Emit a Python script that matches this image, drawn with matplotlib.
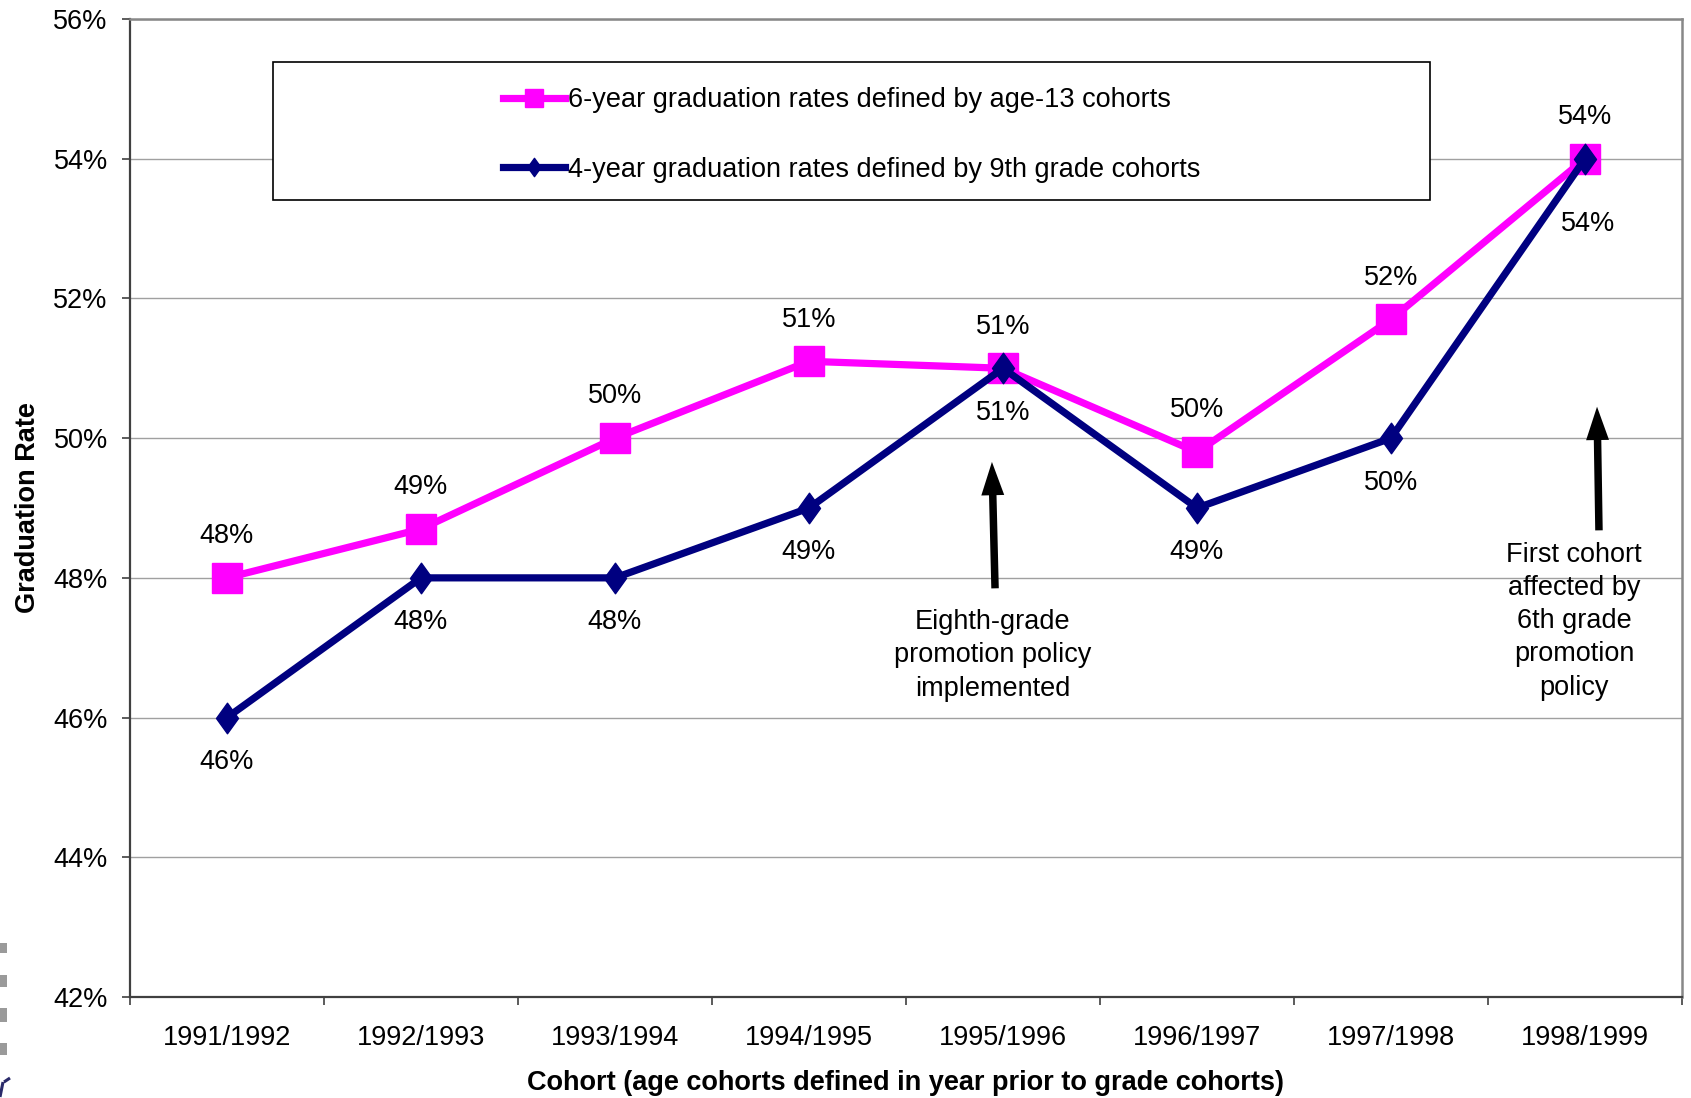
import matplotlib
matplotlib.use("Agg")
import matplotlib.pyplot as plt
from matplotlib.path import Path
from matplotlib.patches import Rectangle, PathPatch

plt.rcParams['font.family'] = ['Liberation Sans', 'DejaVu Sans']

cohorts = ["1991/1992", "1992/1993", "1993/1994", "1994/1995",
           "1995/1996", "1996/1997", "1997/1998", "1998/1999"]
age13_rates = [48.0, 48.7, 50.0, 51.1, 51.0, 49.8, 51.7, 54.0]
grade9_rates = [46.0, 48.0, 48.0, 49.0, 51.0, 49.0, 50.0, 54.0]
age13_labels = ["48%", "49%", "50%", "51%", "51%", "50%", "52%", "54%"]
grade9_labels = ["46%", "48%", "48%", "49%", "51%", "49%", "50%", "54%"]
y_ticks = [42, 44, 46, 48, 50, 52, 54, 56]
y_ticklabels = ["42%", "44%", "46%", "48%", "50%", "52%", "54%", "56%"]
legend_labels = ["6-year graduation rates defined by age-13 cohorts",
                 "4-year graduation rates defined by 9th grade cohorts"]
note1 = "Eighth-grade\npromotion policy\nimplemented"
note2 = "First cohort\naffected by\n6th grade\npromotion\npolicy"

PINK = "#FF00FF"
NAVY = "#000080"
FS = 19.5

fig = plt.figure(figsize=(16.91, 10.98), dpi=100)
ax = fig.add_axes([130/1691, 1-997/1098, 1552/1691, 978/1098])

x = list(range(len(cohorts)))
diamond = Path([(0, 1), (0.72, 0), (0, -1), (-0.72, 0), (0, 1)],
               [Path.MOVETO, Path.LINETO, Path.LINETO, Path.LINETO, Path.CLOSEPOLY])

l1, = ax.plot(x, age13_rates, color=PINK, lw=5.2, marker='s', ms=21,
              mec=PINK, mfc=PINK, zorder=3, label=legend_labels[0])
l2, = ax.plot(x, grade9_rates, color=NAVY, lw=5.2, marker=diamond, ms=22,
              mec=NAVY, mfc=NAVY, zorder=4, label=legend_labels[1])

for xi, yi, lab in zip(x, age13_rates, age13_labels):
    ax.annotate(lab, (xi, yi), xytext=(0, 30), textcoords='offset points',
                ha='center', va='center', fontsize=FS, zorder=5)
for i, (xi, yi, lab) in enumerate(zip(x, grade9_rates, grade9_labels)):
    off = (0, -32) if i < len(x) - 1 else (2, -47)
    ax.annotate(lab, (xi, yi), xytext=off, textcoords='offset points',
                ha='center', va='center', fontsize=FS, zorder=5)

ax.set_xlim(-0.5, 7.5)
ax.set_ylim(42, 56)
ax.set_yticks(y_ticks)
ax.set_yticklabels(y_ticklabels, fontsize=FS)
ax.set_xticks(x)
ax.set_xticklabels(cohorts, fontsize=FS)
ax.set_xticks([i - 0.5 for i in range(len(cohorts) + 1)], minor=True)
ax.tick_params(axis='x', which='major', length=0, pad=20)
ax.tick_params(axis='x', which='minor', length=6, width=1.2, color='#404040', direction='out')
ax.tick_params(axis='y', which='major', length=6, width=1.2, color='#404040', direction='out', pad=10)

ax.grid(axis='y', color='#a0a0a0', lw=1.0, zorder=0)
ax.set_axisbelow(True)
for s in ['left', 'bottom']:
    ax.spines[s].set_color('#404040')
    ax.spines[s].set_linewidth(1.6)
for s in ['top', 'right']:
    ax.spines[s].set_color('#888888')
    ax.spines[s].set_linewidth(1.8)

ax.set_ylabel("Graduation Rate", fontsize=FS, fontweight='bold', va='center', ha='center')
ax.yaxis.set_label_coords(-0.0655, 0.5)
ax.set_xlabel("Cohort (age cohorts defined in year prior to grade cohorts)",
              fontsize=FS, fontweight='bold', va='center', ha='center')
ax.xaxis.set_label_coords(0.5, -0.0875)

# legend box
lx0 = (273 - 130) / 1552
lx1 = (1430 - 130) / 1552
ly1 = (997 - 62) / 978
ly0 = (997 - 200) / 978
ax.add_patch(Rectangle((lx0, ly0), lx1 - lx0, ly1 - ly0, transform=ax.transAxes,
                       fill=True, facecolor='white', edgecolor='black', lw=1.2, zorder=6))
leg = ax.legend(handles=[l1, l2], loc='center',
                bbox_to_anchor=(lx0, ly0 - 0.004, lx1 - lx0, ly1 - ly0),
                frameon=False, fontsize=FS, handlelength=2.3, handletextpad=0.1,
                labelspacing=1.6, markerscale=0.6)
leg.set_zorder(7)

# arrows
arrow_kw = dict(arrowstyle='simple,head_length=1.6,head_width=1.1,tail_width=0.36',
                mutation_scale=15, color='black', lw=0, shrinkA=0, shrinkB=0)
ax.annotate('', xy=(3.943, 49.66), xytext=(3.959, 47.85), arrowprops=arrow_kw, zorder=5)
ax.annotate('', xy=(7.062, 50.45), xytext=(7.072, 48.68), arrowprops=arrow_kw, zorder=5)
ax.text(3.948, 46.89, note1, ha='center', va='center', fontsize=FS, linespacing=1.37, zorder=5)
ax.text(6.943, 47.38, note2, ha='center', va='center', fontsize=FS, linespacing=1.36, zorder=5)

# cropped slide artifacts at left edge
for y0, y1 in [(943, 953), (975, 987), (1008, 1022), (1043, 1055)]:
    fig.patches.append(Rectangle((0, 1 - y1/1098), 7/1691, (y1 - y0)/1098,
                                 transform=fig.transFigure, facecolor='#9a9a9a',
                                 edgecolor='none'))
W, H = 1691, 1098
r_path = Path([(0/W, 1-1097/H), (3/W, 1-1082/H), (4/W, 1-1082/H), (10/W, 1-1078/H)],
              [Path.MOVETO, Path.LINETO, Path.MOVETO, Path.LINETO])
fig.patches.append(PathPatch(r_path, transform=fig.transFigure, edgecolor='#2a2a6a',
                             facecolor='none', lw=2.2))

fig.savefig("out.png", dpi=100, facecolor='white')
